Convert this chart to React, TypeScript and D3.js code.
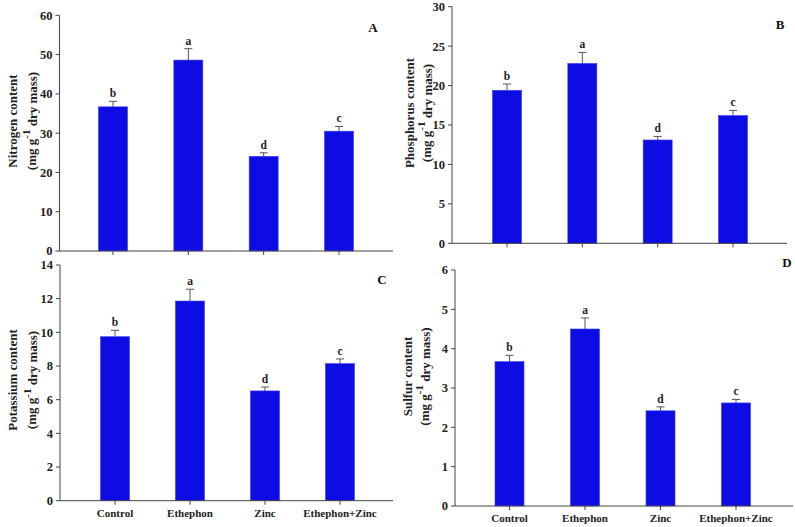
import * as d3 from 'd3';

const categories = ['Control', 'Ethephon', 'Zinc', 'Ethephon+Zinc'];
const letters = ['b', 'a', 'd', 'c'];

const nitrogen = [36.7, 48.6, 24.1, 30.5];
const nitrogenErr = [1.4, 2.9, 0.9, 1.2];
const phosphorus = [19.4, 22.8, 13.1, 16.2];
const phosphorusErr = [0.8, 1.4, 0.45, 0.65];
const potassium = [9.74, 11.86, 6.52, 8.14];
const potassiumErr = [0.38, 0.7, 0.23, 0.28];
const sulfur = [3.67, 4.5, 2.42, 2.62];
const sulfurErr = [0.16, 0.28, 0.1, 0.09];

const nitrogenTicks = [0, 10, 20, 30, 40, 50, 60];
const phosphorusTicks = [0, 5, 10, 15, 20, 25, 30];
const potassiumTicks = [0, 2, 4, 6, 8, 10, 12, 14];
const sulfurTicks = [0, 1, 2, 3, 4, 5, 6];

const FONT = '"Liberation Serif", "Times New Roman", serif';
const BAR = '#0d0de3';
const AXIS = '#444';

interface PanelProps {
  label: string;
  title: string;
  values: number[];
  errors: number[];
  ticks: number[];
  axisX: number;
  right: number;
  first: number;
  last: number;
  top: number;
  bottom: number;
  labelX: number;
  labelY: number;
  titleX1: number;
  titleX2: number;
  titleY: number;
  showCats: boolean;
}

function Panel(p: PanelProps) {
  const y = d3.scaleLinear()
    .domain([0, p.ticks[p.ticks.length - 1]])
    .range([p.bottom, p.top]);
  const x = d3.scalePoint<string>()
    .domain(categories)
    .range([p.first, p.last]);
  const barW = 29;

  return (
    <g fontFamily={FONT} fontWeight="bold">
      {/* bars with error bars and letters */}
      {p.values.map((v, i) => {
        const cx = x(categories[i]) as number;
        const errTop = y(v + p.errors[i]);
        return (
          <g key={i}>
            <line x1={cx} x2={cx} y1={y(v)} y2={errTop} stroke="#555" strokeWidth={1} />
            <line x1={cx - 4} x2={cx + 4} y1={errTop} y2={errTop} stroke="#555" strokeWidth={1} />
            <rect x={cx - barW / 2} y={y(v)} width={barW} height={p.bottom - y(v)}
              fill={BAR} stroke="#3a3af0" strokeWidth={0.6} />
            <text x={cx} y={errTop - 4} textAnchor="middle" fontSize={11.5} fill="#222">{letters[i]}</text>
          </g>
        );
      })}

      {/* y axis */}
      <line x1={p.axisX} x2={p.axisX} y1={p.top} y2={p.bottom} stroke={AXIS} strokeWidth={1} />
      {p.ticks.map(t => (
        <g key={t}>
          <line x1={p.axisX - 4} x2={p.axisX} y1={y(t)} y2={y(t)} stroke={AXIS} strokeWidth={1} />
          <text x={p.axisX - 7} y={y(t)} dy="0.35em" textAnchor="end" fontSize={12.5} fill="#222">{t}</text>
        </g>
      ))}

      {/* x axis */}
      <line x1={p.axisX} x2={p.right} y1={p.bottom} y2={p.bottom} stroke={AXIS} strokeWidth={1} />
      {categories.map(c => (
        <g key={c}>
          <line x1={x(c)} x2={x(c)} y1={p.bottom} y2={p.bottom + 4} stroke={AXIS} strokeWidth={1} />
          {p.showCats && (
            <text x={x(c)} y={p.bottom + 16} textAnchor="middle" fontSize={11} fill="#222">{c}</text>
          )}
        </g>
      ))}

      {/* panel letter */}
      <text x={p.labelX} y={p.labelY} dy="0.35em" textAnchor="middle" fontSize={13} fill="#111">{p.label}</text>

      {/* y title */}
      <text transform={`translate(${p.titleX1},${p.titleY}) rotate(-90)`} dy="0.35em"
        textAnchor="middle" fontSize={13} fill="#222">{p.title}</text>
      <text transform={`translate(${p.titleX2},${p.titleY}) rotate(-90)`} dy="0.35em"
        textAnchor="middle" fontSize={13} fill="#222">
        <tspan>(mg g</tspan>
        <tspan dy="-0.5em" fontSize={11}>-1</tspan>
        <tspan dy="0.5em"> dry mass)</tspan>
      </text>
    </g>
  );
}

export default function App() {
  return (
    <svg width={795} height={527} style={{ position: 'absolute', left: 0, top: 0, background: '#fff' }}>
      <Panel label="A" title="Nitrogen content" values={nitrogen} errors={nitrogenErr} ticks={nitrogenTicks}
        axisX={59.5} right={393} first={113} last={339} top={15.3} bottom={251}
        labelX={373} labelY={27} titleX1={12.5} titleX2={31} titleY={121} showCats={false} />
      <Panel label="B" title="Phosphorus content" values={phosphorus} errors={phosphorusErr} ticks={phosphorusTicks}
        axisX={452} right={787} first={507} last={733} top={6.7} bottom={243.3}
        labelX={780} labelY={24} titleX1={409} titleX2={426} titleY={113} showCats={false} />
      <Panel label="C" title="Potassium content" values={potassium} errors={potassiumErr} ticks={potassiumTicks}
        axisX={60} right={393} first={115} last={340} top={265} bottom={500.7}
        labelX={382} labelY={279} titleX1={12.5} titleX2={31.5} titleY={380} showCats={true} />
      <Panel label="D" title="Sulfur content" values={sulfur} errors={sulfurErr} ticks={sulfurTicks}
        axisX={455} right={793} first={509.5} last={736} top={270} bottom={506}
        labelX={787} labelY={262} titleX1={407} titleX2={424} titleY={376.5} showCats={true} />
    </svg>
  );
}
